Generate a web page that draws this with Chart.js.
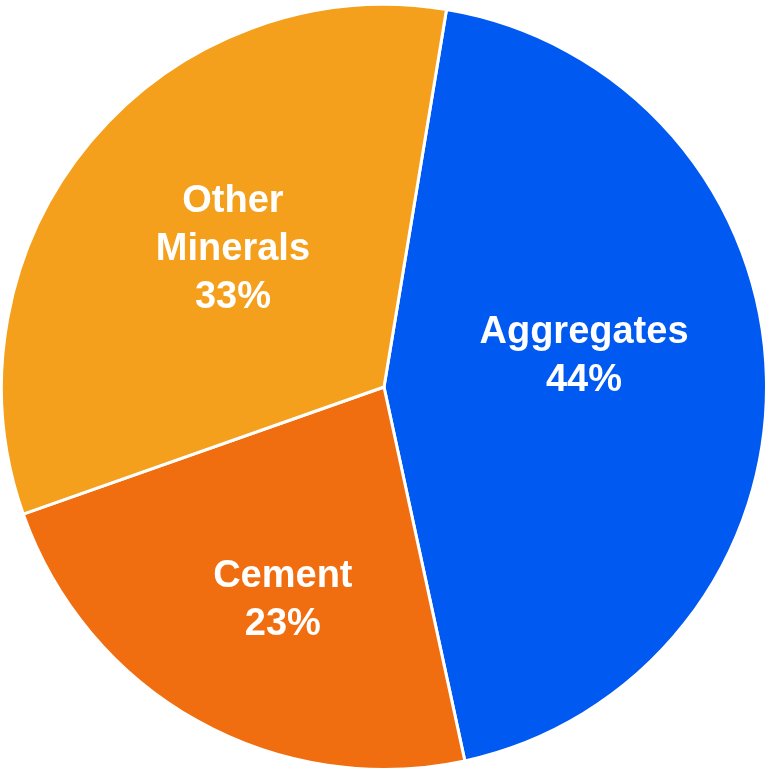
<!DOCTYPE html>
<html>
<head>
<meta charset="utf-8">
<script src="https://cdn.jsdelivr.net/npm/chart.js@4"></script>
<style>
  html, body { margin: 0; padding: 0; background: #fff; }
  .wrap { width: 768px; height: 772px; }
</style>
</head>
<body>
<div class="wrap"><canvas id="myChart"></canvas></div>
<script>
const categories = ["Aggregates", "Cement", "Other Minerals"];
const shares = [44, 23, 33];
const labelLines = [["Aggregates"], ["Cement"], ["Other", "Minerals"]];
const colors = ["#0059F0", "#F06E0F", "#F5A01D"];

// where each label sits: fraction of radius, and a small angle nudge (deg)
const labelRadius = [0.53, 0.61, 0.54];
const labelNudge = [-8, -3.5, 3];

const sliceLabels = {
  id: "sliceLabels",
  afterDatasetsDraw(chart) {
    const { ctx } = chart;
    const meta = chart.getDatasetMeta(0);
    ctx.save();
    ctx.fillStyle = "#fff";
    ctx.font = "bold 38px 'Liberation Sans', Arial, sans-serif";
    ctx.textAlign = "center";
    ctx.textBaseline = "middle";
    meta.data.forEach((arc, i) => {
      const { x, y, startAngle, endAngle, outerRadius } = arc.getProps(
        ["x", "y", "startAngle", "endAngle", "outerRadius"], true);
      const mid = (startAngle + endAngle) / 2 + labelNudge[i] * Math.PI / 180;
      const r = outerRadius * labelRadius[i];
      const cx = x + Math.cos(mid) * r;
      const cy = y + Math.sin(mid) * r + 3;
      const lines = labelLines[i].concat([shares[i] + "%"]);
      const lh = 48;
      const top = cy - (lines.length - 1) * lh / 2;
      lines.forEach((t, j) => ctx.fillText(t, cx, top + j * lh));
    });
    ctx.restore();
  },
};

new Chart(document.getElementById("myChart"), {
  type: "pie",
  data: {
    labels: categories,
    datasets: [{
      data: shares,
      backgroundColor: colors,
      borderColor: "#fff",
      borderWidth: 3,
    }],
  },
  options: {
    responsive: true,
    maintainAspectRatio: false,
    animation: false,
    rotation: 9.4,
    layout: { padding: { top: 2, bottom: 0 } },
    plugins: {
      legend: { display: false },
      tooltip: { enabled: false },
    },
  },
  plugins: [sliceLabels],
});
</script>
</body>
</html>
